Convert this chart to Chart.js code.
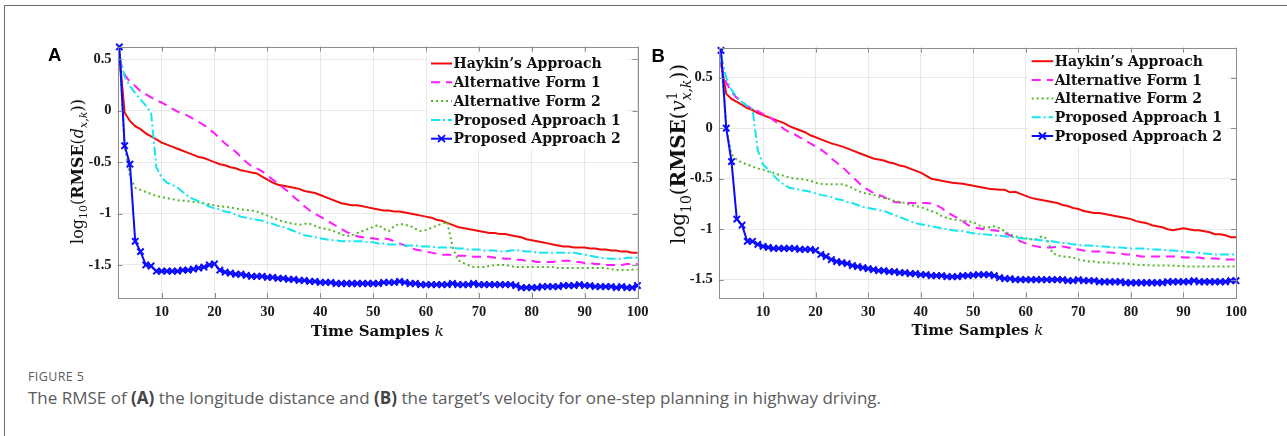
<!DOCTYPE html>
<html><head><meta charset="utf-8">
<script src="https://cdn.jsdelivr.net/npm/chart.js@4.4.0/dist/chart.umd.min.js"></script>
<style>
html,body{margin:0;padding:0;background:#fff;}
body{width:1287px;height:436px;position:relative;overflow:hidden;font-family:"Open Sans",sans-serif;}
#frame{position:absolute;left:4px;top:5px;width:1300px;height:450px;border-left:1.5px solid #6a6a6a;border-top:1.5px solid #6a6a6a;}
canvas{position:absolute;top:0;}
#cA{left:0;}
#cB{left:650px;}
.panel{position:absolute;font-family:"Liberation Sans",Arial,sans-serif;font-weight:bold;font-size:18.5px;line-height:18.5px;color:#000;}
#pA{left:48px;top:46px;}
#pB{left:651.5px;top:46.6px;}
#cap1{position:absolute;left:28px;top:368.8px;font-size:12.5px;line-height:16px;color:#5c5c5c;white-space:nowrap;letter-spacing:0.4px;}
#cap2{position:absolute;left:28px;top:385.7px;font-size:17px;line-height:24px;color:#5c5c5c;white-space:nowrap;}
#cap2 b{color:#444;}
</style>
</head>
<body>
<div id="frame"></div>
<canvas id="cA" width="660" height="345"></canvas>
<canvas id="cB" width="637" height="345"></canvas>
<div class="panel" id="pA">A</div>
<div class="panel" id="pB">B</div>
<div id="cap1">FIGURE 5</div>
<div id="cap2">The RMSE of <b>(A)</b> the longitude distance and <b>(B)</b> the target’s velocity for one-step planning in highway driving.</div>
<script>
// ---------- data ----------
const timeSamples = Array.from({length: 99}, (_, i) => i + 2); // k = 2..100
const xTicks = [10, 20, 30, 40, 50, 60, 70, 80, 90, 100];
const yTicks = [-1.5, -1, -0.5, 0, 0.5];
const seriesNames = ["Haykin’s Approach", "Alternative Form 1", "Alternative Form 2", "Proposed Approach 1", "Proposed Approach 2"];

// Panel A: log10(RMSE(d_{x,k}))
const A_haykin = [0.55,-0.02,-0.10,-0.15,-0.18,-0.22,-0.25,-0.28,-0.31,-0.33,
 -0.35,-0.37,-0.39,-0.41,-0.43,-0.45,-0.46,-0.48,-0.50,-0.52,
 -0.53,-0.55,-0.56,-0.58,-0.59,-0.60,-0.61,-0.64,-0.67,-0.70,
 -0.72,-0.73,-0.74,-0.75,-0.76,-0.78,-0.79,-0.80,-0.82,-0.84,
 -0.86,-0.88,-0.90,-0.91,-0.92,-0.92,-0.93,-0.94,-0.95,-0.96,
 -0.97,-0.97,-0.98,-0.98,-0.99,-1.00,-1.01,-1.02,-1.03,-1.04,
 -1.06,-1.07,-1.09,-1.11,-1.13,-1.14,-1.15,-1.16,-1.17,-1.18,
 -1.19,-1.19,-1.20,-1.20,-1.21,-1.22,-1.23,-1.25,-1.26,-1.27,
 -1.28,-1.29,-1.30,-1.31,-1.32,-1.32,-1.33,-1.33,-1.33,-1.34,
 -1.34,-1.35,-1.35,-1.36,-1.36,-1.37,-1.37,-1.38,-1.38];
const A_alt1 = [0.50,0.35,0.28,0.24,0.19,0.16,0.13,0.10,0.08,0.05,
 0.02,-0.01,-0.03,-0.05,-0.08,-0.11,-0.14,-0.18,-0.22,-0.27,
 -0.32,-0.36,-0.40,-0.45,-0.50,-0.54,-0.56,-0.59,-0.63,-0.67,
 -0.71,-0.75,-0.79,-0.84,-0.88,-0.93,-0.97,-1.00,-1.03,-1.06,
 -1.09,-1.12,-1.15,-1.18,-1.20,-1.22,-1.23,-1.24,-1.24,-1.25,
 -1.24,-1.25,-1.27,-1.29,-1.31,-1.33,-1.35,-1.36,-1.37,-1.38,
 -1.39,-1.40,-1.40,-1.40,-1.41,-1.41,-1.41,-1.42,-1.42,-1.42,
 -1.42,-1.43,-1.43,-1.44,-1.44,-1.45,-1.45,-1.46,-1.46,-1.47,
 -1.47,-1.47,-1.47,-1.46,-1.46,-1.46,-1.47,-1.47,-1.48,-1.48,
 -1.49,-1.49,-1.50,-1.50,-1.50,-1.50,-1.49,-1.49,-1.49];
const A_alt2 = [0.60,-0.34,-0.64,-0.75,-0.77,-0.79,-0.81,-0.83,-0.84,-0.85,
 -0.86,-0.87,-0.875,-0.88,-0.885,-0.89,-0.90,-0.91,-0.92,-0.93,
 -0.935,-0.94,-0.95,-0.96,-0.965,-0.97,-0.98,-1.00,-1.02,-1.04,
 -1.06,-1.08,-1.09,-1.10,-1.11,-1.10,-1.10,-1.12,-1.14,-1.15,
 -1.16,-1.18,-1.20,-1.22,-1.21,-1.19,-1.17,-1.15,-1.13,-1.11,
 -1.15,-1.17,-1.12,-1.10,-1.11,-1.12,-1.15,-1.17,-1.16,-1.14,
 -1.12,-1.10,-1.08,-1.32,-1.45,-1.48,-1.50,-1.52,-1.52,-1.52,
 -1.51,-1.50,-1.50,-1.50,-1.51,-1.52,-1.52,-1.52,-1.52,-1.52,
 -1.52,-1.52,-1.52,-1.53,-1.53,-1.53,-1.53,-1.53,-1.53,-1.53,
 -1.53,-1.53,-1.53,-1.54,-1.55,-1.55,-1.55,-1.545,-1.545];
const A_prop1 = [0.55,0.33,0.24,0.17,0.11,0.05,-0.02,-0.55,-0.65,-0.70,
 -0.72,-0.75,-0.79,-0.83,-0.86,-0.88,-0.91,-0.93,-0.95,-0.96,
 -0.98,-0.99,-1.01,-1.03,-1.04,-1.05,-1.06,-1.07,-1.09,-1.10,
 -1.12,-1.13,-1.15,-1.17,-1.19,-1.21,-1.22,-1.23,-1.24,-1.25,
 -1.26,-1.26,-1.27,-1.27,-1.27,-1.27,-1.27,-1.28,-1.28,-1.29,
 -1.29,-1.30,-1.30,-1.30,-1.31,-1.31,-1.31,-1.32,-1.32,-1.32,
 -1.33,-1.33,-1.33,-1.33,-1.34,-1.34,-1.35,-1.35,-1.35,-1.36,
 -1.36,-1.36,-1.37,-1.37,-1.36,-1.355,-1.36,-1.37,-1.37,-1.38,
 -1.38,-1.38,-1.38,-1.38,-1.38,-1.38,-1.38,-1.39,-1.40,-1.41,
 -1.42,-1.43,-1.435,-1.44,-1.44,-1.44,-1.43,-1.43,-1.43];
const A_prop2 = [0.62,-0.34,-0.52,-1.27,-1.37,-1.50,-1.51,-1.56,-1.56,-1.56,
 -1.56,-1.56,-1.55,-1.55,-1.54,-1.53,-1.52,-1.50,-1.49,-1.55,
 -1.57,-1.58,-1.59,-1.59,-1.60,-1.61,-1.61,-1.61,-1.62,-1.62,
 -1.63,-1.63,-1.64,-1.64,-1.65,-1.65,-1.66,-1.66,-1.67,-1.67,
 -1.67,-1.68,-1.68,-1.68,-1.68,-1.68,-1.68,-1.68,-1.68,-1.68,
 -1.67,-1.67,-1.67,-1.66,-1.67,-1.68,-1.68,-1.69,-1.69,-1.69,
 -1.69,-1.69,-1.69,-1.68,-1.69,-1.69,-1.69,-1.68,-1.69,-1.69,
 -1.69,-1.69,-1.69,-1.69,-1.69,-1.70,-1.72,-1.72,-1.72,-1.72,
 -1.71,-1.71,-1.71,-1.71,-1.70,-1.70,-1.70,-1.69,-1.70,-1.70,
 -1.71,-1.71,-1.71,-1.71,-1.72,-1.71,-1.72,-1.72,-1.70];

// Panel B: log10(RMSE(v^1_{x,k}))
const B_haykin = [0.65,0.34,0.29,0.26,0.23,0.20,0.18,0.15,0.13,0.11,
 0.09,0.07,0.05,0.02,0.00,-0.02,-0.04,-0.07,-0.09,-0.11,
 -0.13,-0.15,-0.165,-0.18,-0.20,-0.22,-0.24,-0.26,-0.28,-0.30,
 -0.31,-0.32,-0.34,-0.35,-0.37,-0.38,-0.40,-0.42,-0.44,-0.47,
 -0.50,-0.51,-0.52,-0.53,-0.54,-0.545,-0.55,-0.56,-0.57,-0.58,
 -0.59,-0.60,-0.605,-0.61,-0.61,-0.635,-0.63,-0.65,-0.67,-0.69,
 -0.70,-0.71,-0.72,-0.73,-0.74,-0.76,-0.77,-0.79,-0.80,-0.82,
 -0.83,-0.84,-0.84,-0.85,-0.86,-0.87,-0.88,-0.89,-0.90,-0.92,
 -0.93,-0.94,-0.96,-0.97,-0.98,-1.00,-1.01,-1.00,-0.99,-1.00,
 -1.01,-1.01,-1.02,-1.03,-1.05,-1.05,-1.06,-1.08,-1.08];
const B_alt1 = [0.62,0.45,0.36,0.30,0.26,0.22,0.19,0.17,0.14,0.12,
 0.08,0.04,-0.01,-0.04,-0.06,-0.09,-0.12,-0.15,-0.18,-0.21,
 -0.25,-0.30,-0.34,-0.38,-0.43,-0.48,-0.53,-0.58,-0.61,-0.64,
 -0.66,-0.68,-0.71,-0.73,-0.735,-0.74,-0.74,-0.74,-0.74,-0.74,
 -0.745,-0.76,-0.79,-0.83,-0.86,-0.89,-0.92,-0.96,-0.98,-0.99,
 -1.00,-1.01,-1.01,-1.02,-1.04,-1.06,-1.09,-1.12,-1.14,-1.16,
 -1.17,-1.18,-1.18,-1.18,-1.17,-1.17,-1.18,-1.19,-1.20,-1.21,
 -1.22,-1.22,-1.22,-1.23,-1.23,-1.235,-1.24,-1.25,-1.25,-1.26,
 -1.27,-1.27,-1.27,-1.27,-1.27,-1.27,-1.27,-1.27,-1.28,-1.28,
 -1.28,-1.28,-1.29,-1.29,-1.29,-1.295,-1.30,-1.30,-1.30];
const B_alt2 = [0.72,0.00,-0.26,-0.31,-0.34,-0.36,-0.38,-0.40,-0.41,-0.43,
 -0.44,-0.46,-0.47,-0.49,-0.50,-0.50,-0.51,-0.52,-0.54,-0.55,
 -0.555,-0.555,-0.555,-0.555,-0.57,-0.59,-0.62,-0.64,-0.65,-0.66,
 -0.68,-0.69,-0.70,-0.72,-0.73,-0.74,-0.76,-0.77,-0.78,-0.80,
 -0.82,-0.84,-0.87,-0.89,-0.90,-0.91,-0.915,-0.92,-0.93,-0.96,
 -0.98,-0.98,-0.97,-0.99,-1.02,-1.05,-1.07,-1.08,-1.09,-1.10,
 -1.10,-1.07,-1.09,-1.23,-1.26,-1.27,-1.275,-1.28,-1.30,-1.31,
 -1.32,-1.32,-1.33,-1.33,-1.33,-1.34,-1.34,-1.34,-1.345,-1.35,
 -1.355,-1.355,-1.36,-1.36,-1.36,-1.36,-1.36,-1.365,-1.365,-1.37,
 -1.37,-1.37,-1.37,-1.37,-1.37,-1.37,-1.37,-1.37,-1.37];
const B_prop1 = [0.72,0.50,0.38,0.31,0.26,0.22,0.19,-0.22,-0.36,-0.41,
 -0.47,-0.52,-0.56,-0.59,-0.60,-0.61,-0.62,-0.63,-0.645,-0.66,
 -0.67,-0.68,-0.70,-0.71,-0.73,-0.74,-0.76,-0.78,-0.79,-0.80,
 -0.81,-0.82,-0.84,-0.86,-0.88,-0.90,-0.92,-0.94,-0.95,-0.96,
 -0.97,-0.98,-0.99,-1.00,-1.01,-1.015,-1.02,-1.03,-1.04,-1.045,
 -1.05,-1.055,-1.06,-1.065,-1.07,-1.075,-1.08,-1.09,-1.095,-1.10,
 -1.105,-1.11,-1.115,-1.12,-1.13,-1.135,-1.14,-1.15,-1.155,-1.16,
 -1.16,-1.165,-1.17,-1.17,-1.175,-1.18,-1.18,-1.185,-1.19,-1.19,
 -1.19,-1.195,-1.20,-1.20,-1.205,-1.21,-1.21,-1.215,-1.22,-1.225,
 -1.23,-1.235,-1.24,-1.245,-1.25,-1.25,-1.25,-1.25,-1.25];
const B_prop2 = [0.77,0.00,-0.33,-0.90,-0.96,-1.12,-1.12,-1.15,-1.17,-1.18,
 -1.19,-1.19,-1.19,-1.19,-1.19,-1.20,-1.20,-1.20,-1.21,-1.25,
 -1.27,-1.30,-1.32,-1.33,-1.34,-1.36,-1.37,-1.38,-1.39,-1.40,
 -1.41,-1.41,-1.42,-1.42,-1.43,-1.43,-1.44,-1.44,-1.45,-1.45,
 -1.46,-1.46,-1.46,-1.47,-1.47,-1.47,-1.46,-1.46,-1.455,-1.45,
 -1.45,-1.45,-1.46,-1.48,-1.49,-1.49,-1.50,-1.50,-1.50,-1.50,
 -1.50,-1.50,-1.50,-1.50,-1.50,-1.50,-1.51,-1.51,-1.50,-1.51,
 -1.51,-1.51,-1.52,-1.52,-1.52,-1.52,-1.52,-1.53,-1.53,-1.53,
 -1.53,-1.53,-1.53,-1.53,-1.53,-1.52,-1.52,-1.52,-1.52,-1.52,
 -1.51,-1.52,-1.52,-1.52,-1.52,-1.52,-1.52,-1.51,-1.51];

// ---------- styles ----------
const seriesColors = ['#f20d0d', '#ff1aff', '#55b82a', '#14e6f0', '#0a0aff'];
const seriesDashes = [[], [9, 6], [2, 3], [9, 3, 2, 3], []];

const SERIF = '"DejaVu Serif", serif';
const TICKFONT = '"Liberation Serif", "Times New Roman", serif';

function fnt(style, size) {
  let s = '';
  if (style === 'bold') s = 'bold ';
  if (style === 'italic') s = 'italic ';
  return s + size.toFixed(2) + 'px ' + SERIF;
}

function layoutRich(ctx, pieces, s) {
  let x = 0; const items = [];
  for (const p of pieces) {
    if (p.stack) {
      const f1 = fnt('normal', s * 0.7), f2 = fnt('italic', s * 0.7);
      ctx.font = f1; const w1 = ctx.measureText(p.sup).width;
      ctx.font = f2; const w2 = ctx.measureText(p.sub).width;
      items.push({t: p.sup, f: f1, x, dy: -0.42 * s});
      items.push({t: p.sub, f: f2, x, dy: 0.3 * s});
      x += Math.max(w1, w2);
    } else {
      const sz = p.sub ? s * 0.7 : s;
      const f = fnt(p.style || 'normal', sz);
      ctx.font = f; const w = ctx.measureText(p.t).width;
      items.push({t: p.t, f, x, dy: p.sub ? 0.3 * s : 0});
      x += w;
    }
  }
  return {items, W: x};
}

function drawRich(ctx, pieces, cx, cy, rotate, targetLen, baseSize) {
  let s = baseSize;
  let L = layoutRich(ctx, pieces, s);
  if (targetLen) { s = s * targetLen / L.W; L = layoutRich(ctx, pieces, s); }
  ctx.save();
  ctx.translate(cx, cy);
  if (rotate) ctx.rotate(-Math.PI / 2);
  ctx.fillStyle = '#111';
  ctx.textBaseline = 'alphabetic';
  ctx.textAlign = 'left';
  for (const it of L.items) {
    ctx.font = it.f;
    ctx.fillText(it.t, it.x - L.W / 2, 0.36 * s + it.dy);
  }
  ctx.restore();
}

const decorPlugin = {
  id: 'decor',
  afterDatasetsDraw(chart, args, o) {
    const ctx = chart.ctx;
    const lg = o.legend;
    ctx.save();
    ctx.font = 'bold 14px ' + SERIF;
    let maxW = 0;
    chart.data.datasets.forEach(d => { maxW = Math.max(maxW, ctx.measureText(d.label).width); });
    ctx.fillStyle = '#fff';
    ctx.fillRect(lg.x - 4, lg.y0 - 10, lg.lineLen + 3 + maxW + 8, lg.dy * 4 + 20);
    chart.data.datasets.forEach((d, i) => {
      const y = lg.y0 + i * lg.dy;
      ctx.strokeStyle = d.borderColor;
      ctx.lineWidth = 2;
      ctx.setLineDash(d.borderDash || []);
      ctx.beginPath(); ctx.moveTo(lg.x, y); ctx.lineTo(lg.x + lg.lineLen, y); ctx.stroke();
      ctx.setLineDash([]);
      if (d.pointRadius > 0) {
        const cx = lg.x + lg.lineLen / 2, r = 3.5;
        ctx.lineWidth = 1.8;
        ctx.beginPath();
        ctx.moveTo(cx - r, y - r); ctx.lineTo(cx + r, y + r);
        ctx.moveTo(cx - r, y + r); ctx.lineTo(cx + r, y - r);
        ctx.stroke();
      }
      ctx.fillStyle = '#111';
      ctx.textBaseline = 'middle';
      ctx.fillText(d.label, lg.x + lg.lineLen + 1.5, y + 1);
    });
    ctx.restore();
  },
  afterDraw(chart, args, o) {
    const ctx = chart.ctx, ca = chart.chartArea;
    const xs = chart.scales.x, ys = chart.scales.y;
    ctx.save();
    ctx.strokeStyle = '#8d8d8d';
    ctx.lineWidth = 1;
    ctx.strokeRect(Math.round(ca.left) + 0.5, Math.round(ca.top) + 0.5,
      Math.round(ca.right) - Math.round(ca.left), Math.round(ca.bottom) - Math.round(ca.top));
    ctx.beginPath();
    xTicks.forEach(v => {
      const px = Math.round(xs.getPixelForValue(v)) + 0.5;
      ctx.moveTo(px, ca.bottom); ctx.lineTo(px, ca.bottom - 5);
      ctx.moveTo(px, ca.top); ctx.lineTo(px, ca.top + 5);
    });
    yTicks.forEach(v => {
      const py = Math.round(ys.getPixelForValue(v)) + 0.5;
      ctx.moveTo(ca.left, py); ctx.lineTo(ca.left + 5, py);
      ctx.moveTo(ca.right, py); ctx.lineTo(ca.right - 5, py);
    });
    ctx.stroke();
    ctx.restore();
    // axis titles
    const xt = o.xTitle;
    drawRich(ctx, [{t: 'Time Samples ', style: 'bold'}, {t: 'k', style: 'italic'}],
      (ca.left + ca.right) / 2, xt.cy, false, xt.len, 14.5);
    const yt = o.yTitle;
    drawRich(ctx, yt.pieces, yt.cx, yt.cy, true, yt.len, 15);
  }
};

function buildChart(id, series, cfg) {
  const el = document.getElementById(id);
  return new Chart(el, {
    type: 'line',
    data: {
      datasets: series.map((vals, i) => ({
        label: seriesNames[i],
        data: timeSamples.map((k, j) => ({x: k, y: vals[j]})),
        borderColor: seriesColors[i],
        backgroundColor: seriesColors[i],
        borderWidth: 2,
        borderDash: seriesDashes[i],
        pointRadius: i === 4 ? 4.5 : 0,
        pointHoverRadius: 0,
        pointStyle: 'crossRot',
        pointBorderWidth: 2,
        pointBorderColor: seriesColors[i],
        fill: false,
        tension: 0,
        order: 4 - i,
        clip: i === 4 ? false : 3
      }))
    },
    options: {
      responsive: false,
      animation: false,
      devicePixelRatio: 1,
      events: [],
      layout: {padding: cfg.padding},
      plugins: {
        legend: {display: false},
        tooltip: {enabled: false},
        decor: {legend: cfg.legend, xTitle: cfg.xTitle, yTitle: cfg.yTitle}
      },
      scales: {
        x: {
          type: 'linear', min: cfg.xMin, max: 100,
          afterBuildTicks: s => { s.ticks = xTicks.map(v => ({value: v})); },
          afterFit: s => { s.height = cfg.xAxisH; },
          grid: {color: 'rgba(0,0,0,0.085)', drawTicks: false},
          border: {display: false},
          ticks: {font: {family: TICKFONT, size: 14.5, weight: 'bold'}, color: '#1a1a1a', padding: 6, maxRotation: 0,
            callback: v => String(v)}
        },
        y: {
          type: 'linear', min: cfg.yMin, max: cfg.yMax,
          afterBuildTicks: s => { s.ticks = yTicks.map(v => ({value: v})); },
          afterFit: s => { s.width = cfg.yAxisW; },
          grid: {color: 'rgba(0,0,0,0.085)', drawTicks: false},
          border: {display: false},
          ticks: {font: {family: TICKFONT, size: 14.5, weight: 'bold'}, color: '#1a1a1a', padding: 6,
            callback: v => String(v)}
        }
      }
    },
    plugins: [decorPlugin]
  });
}

buildChart('cA', [A_haykin, A_alt1, A_alt2, A_prop1, A_prop2], {
  padding: {left: 0, top: 46.5, right: 22.5, bottom: 0},
  yAxisW: 117.5, xAxisH: 47, xMin: 1.65, yMin: -1.821, yMax: 0.624,
  legend: {x: 431, y0: 63.5, dy: 18.8, lineLen: 21},
  xTitle: {cy: 331, len: 133},
  yTitle: {cx: 77, cy: 171.5, len: 145, pieces: [
    {t: 'log'}, {t: '10', sub: true}, {t: '('}, {t: 'RMSE', style: 'bold'}, {t: '('},
    {t: 'd', style: 'italic'}, {t: 'x,k', style: 'italic', sub: true}, {t: '))'}]}
});
buildChart('cB', [B_haykin, B_alt1, B_alt2, B_prop1, B_prop2], {
  padding: {left: 0, top: 47.7, right: 51, bottom: 0},
  yAxisW: 68.7, xAxisH: 47.5, xMin: 1.56, yMin: -1.676, yMax: 0.797,
  legend: {x: 381.7, y0: 61.2, dy: 18.7, lineLen: 21.5},
  xTitle: {cy: 330, len: 132},
  yTitle: {cx: 28, cy: 154, len: 180, pieces: [
    {t: 'log'}, {t: '10', sub: true}, {t: '('}, {t: 'RMSE', style: 'bold'}, {t: '('},
    {t: 'v', style: 'italic'}, {stack: true, sup: '1', sub: 'x,k'}, {t: '))'}]}
});
</script>
</body></html>
